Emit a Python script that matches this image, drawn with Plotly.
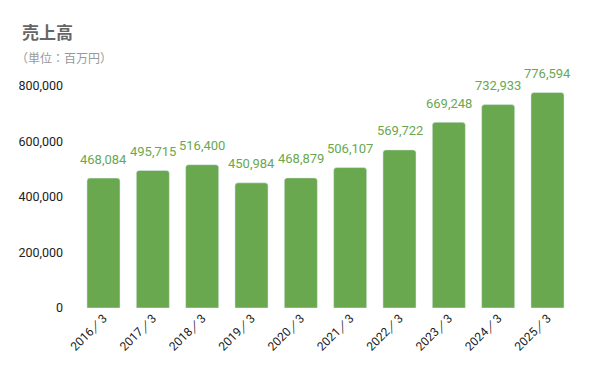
import plotly.graph_objects as go

categories = ["2016／3", "2017／3", "2018／3", "2019／3", "2020／3",
              "2021／3", "2022／3", "2023／3", "2024／3", "2025／3"]
sales = [468084, 495715, 516400, 450984, 468879, 506107, 569722, 669248, 732933, 776594]
tick_vals = [0, 200000, 400000, 600000, 800000]
tick_text = ["0", "200,000", "400,000", "600,000", "800,000"]

green = "#69a84f"

# page has an 8px body margin; figure coordinates = page - 8
W, H = 584, 355
L, T, R, B = 70, 78, 19, 55
PW, PH = W - L - R, H - T - B

fig = go.Figure(go.Bar(
    x=categories, y=sales,
    marker=dict(color=green, cornerradius=3),
    hoverinfo="x+y",
))

for c, v in zip(categories, sales):
    fig.add_annotation(x=c, y=v, text=f"{v:,}", showarrow=False,
                       yanchor="middle", yshift=19,
                       font=dict(color=green, size=13, family="Roboto"))

fig.update_layout(
    width=W, height=H,
    margin=dict(l=L, r=R, t=T, b=B, autoexpand=False),
    plot_bgcolor="white", paper_bgcolor="white",
    bargap=0.33,
    showlegend=False,
    font=dict(family="Roboto", color="#222222", size=12),
    xaxis=dict(tickangle=-45, showgrid=False, showline=False, ticks="",
               tickfont=dict(size=12, family="Roboto", color="#222222")),
    yaxis=dict(range=[0, 800000], tickvals=tick_vals, ticktext=tick_text,
               showgrid=False, zeroline=False, showline=False, ticks="",
               ticklabelstandoff=14,
               tickfont=dict(size=12.5, family="Roboto", color="#222222")),
)
fig.add_annotation(text="<b>売上高</b>", xref="paper", yref="paper",
                   x=(12 - L) / PW, y=1 + (T - 23) / PH, xanchor="left", yanchor="middle",
                   showarrow=False,
                   font=dict(family="Noto Sans CJK JP", size=17, color="#666666"))
fig.add_annotation(text="（単位：百万円）", xref="paper", yref="paper",
                   x=(6 - L) / PW, y=1 + (T - 50) / PH, xanchor="left", yanchor="middle",
                   showarrow=False,
                   font=dict(family="Noto Sans CJK JP", size=12, color="#999999"))

fig.write_html("out.html")
